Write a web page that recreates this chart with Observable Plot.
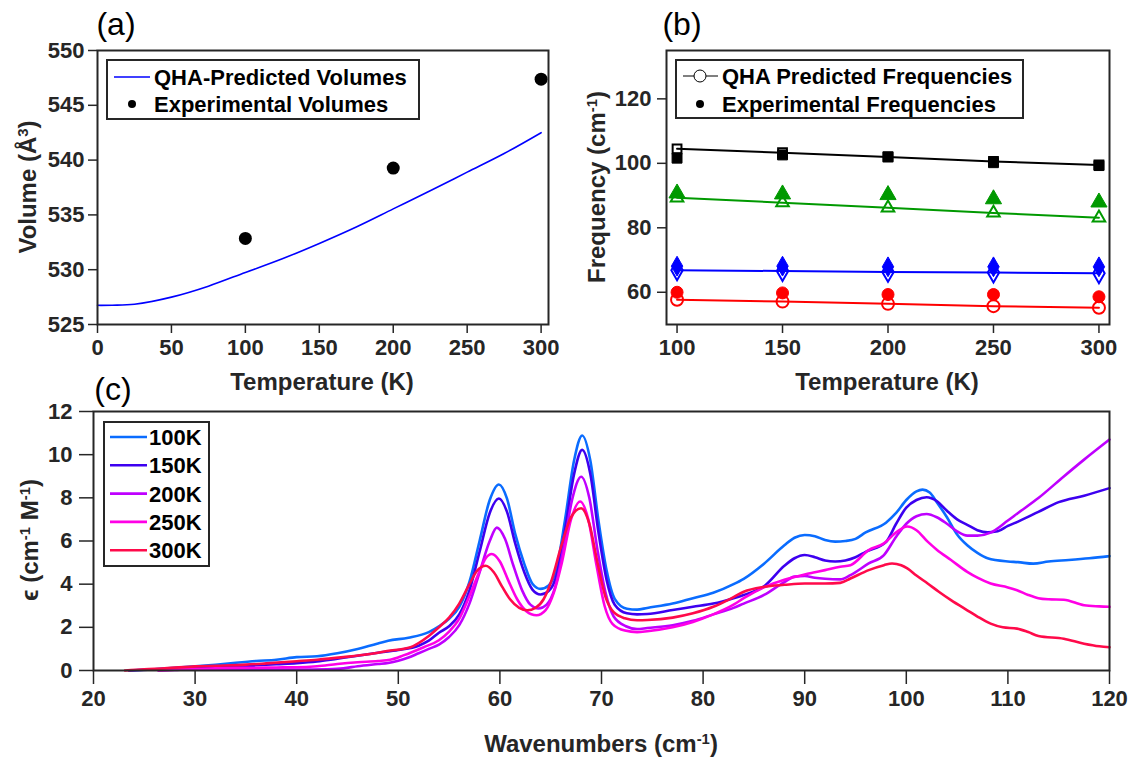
<!DOCTYPE html>
<html><head><meta charset="utf-8">
<script src="https://cdn.jsdelivr.net/npm/d3@7"></script>
<script src="https://cdn.jsdelivr.net/npm/@observablehq/plot@0.6"></script>
<style>
body{margin:0;background:#fff;}
#fig{position:relative;width:1133px;height:761px;overflow:hidden;background:#fff;font-family:"Liberation Sans",Arial,Helvetica,sans-serif;color:#262626;}
.t{position:absolute;font-weight:bold;white-space:nowrap;transform:translate(-50%,-50%);font-size:24px;line-height:1;}
.ty{position:absolute;font-weight:bold;white-space:nowrap;transform:translate(-50%,-50%) rotate(-90deg);font-size:24px;line-height:1;}
.pl{position:absolute;font-size:32px;transform:translate(-50%,-50%);line-height:1;color:#000;}
.leg{position:absolute;border:2px solid #262626;background:#fff;box-sizing:border-box;}
.leg .lt{position:absolute;font-weight:bold;font-size:22px;white-space:nowrap;transform:translateY(-50%);line-height:1;color:#000;}
.leg svg{position:absolute;left:0;top:0;overflow:visible;}
sup{font-size:0.62em;vertical-align:0.55em;line-height:0;}
</style></head><body><div id="fig"></div>
<script>
// ---------- Panel (a) ----------
const volT = [0, 10, 25, 50, 75, 100, 125, 150, 175, 200, 225, 250, 275, 300];
const volQHA = [526.75, 526.76, 526.85, 527.5, 528.5, 529.75, 531.0, 532.4, 533.9, 535.55, 537.2, 538.9, 540.6, 542.5];
const expT = [100, 200, 300];
const expV = [532.85, 539.27, 547.38];
const aXTicks = [0, 50, 100, 150, 200, 250, 300];
const aYTicks = [525, 530, 535, 540, 545, 550];

// ---------- Panel (b) ----------
const freqT = [100, 150, 200, 250, 300];
const qhaBlack = [104.5, 103.3, 102.0, 100.6, 99.5];
const expBlack = [101.6, 102.6, 102.0, 100.2, 99.3];
const qhaGreen = [89.3, 87.8, 86.2, 84.6, 83.1];
const expGreen = [90.7, 90.4, 90.2, 88.9, 87.9];
const qhaBlue = [66.8, 66.6, 66.3, 66.1, 65.9];
const expBlue = [68.1, 68.1, 67.9, 67.9, 67.9];
const qhaRed = [57.7, 57.1, 56.4, 55.7, 55.2];
const expRed = [60.0, 59.8, 59.3, 59.3, 58.6];
const bXTicks = [100, 150, 200, 250, 300];
const bYTicks = [60, 80, 100, 120];

// ---------- Panel (c) ----------
const w100 = [23.5,26,28,30,32,34,36,38,40,42,44,46,48,49,51,53,54,55,56,57,58,59,59.9,60.7,61.5,62.4,63.2,64,64.8,65.6,66.4,67.3,68.1,68.9,69.7,70.5,71.3,72.5,73.5,74.5,77,79,81,83,84,86,88,89,90,91,92,93,94,95,96,98,99,100,101,101.6,102.3,103,104,105,106,107,108,110,111,112.5,114,116,118,120];
const e100 = [0,0.06,0.12,0.19,0.27,0.36,0.44,0.5,0.62,0.66,0.8,1.0,1.25,1.38,1.52,1.78,2.05,2.4,2.95,4.1,6.0,7.9,8.62,7.96,6.34,4.94,4.02,3.78,3.94,4.79,6.95,9.73,10.89,9.73,6.95,4.64,3.32,2.86,2.82,2.9,3.1,3.35,3.6,4.0,4.25,4.95,5.8,6.15,6.28,6.22,6.05,5.97,6.0,6.1,6.4,6.85,7.3,7.9,8.3,8.38,8.25,7.8,7.1,6.3,5.8,5.45,5.2,5.05,5.02,4.95,5.05,5.12,5.2,5.3];

const w150 = [23.5,26,28,30,32,34,36,38,40,42,44,46,48,50,52,53,54,55,56,57,58,59,59.9,60.7,61.5,62.4,63.2,64,64.8,65.6,66.4,67.3,68.1,68.9,69.7,70.5,71.3,72.5,73.5,74.5,77,79,81,83,84,86,88,89,90,91,92,93,94,95,96,98,99,100,101,102,103,104,105,106,107,108,109,110,111,113,115,117.5,120];
const e150 = [0,0.05,0.09,0.13,0.16,0.19,0.24,0.29,0.34,0.42,0.55,0.68,0.82,0.95,1.15,1.38,1.75,2.05,2.6,3.7,5.5,7.3,7.97,7.35,5.9,4.55,3.75,3.52,3.68,4.45,6.5,9.1,10.22,9.1,6.4,4.2,3.05,2.65,2.6,2.62,2.8,2.95,3.1,3.35,3.5,3.9,4.85,5.2,5.35,5.25,5.1,5.05,5.1,5.25,5.5,5.95,6.8,7.55,7.9,8.03,7.85,7.4,7.0,6.75,6.5,6.4,6.45,6.7,6.9,7.35,7.8,8.1,8.45];

const w200 = [26.4,28,30,35,40,43,44.6,46,48,49,50,51,52,53,54,55,56,57,58,59,59.7,60.5,61.3,62.2,63,63.8,64.6,65.4,66.2,67.1,68,68.8,69.6,70.4,71.2,72.4,73.5,74.5,77,79,81,83,84,86,88,89,90,91,92,93.5,94.5,96.3,97.8,99,100,101,102,103,104,105,106,107,108.3,110,111,113,115.5,117.5,120];
const e200 = [0,0.03,0.06,0.05,0.04,0.06,0.1,0.2,0.3,0.35,0.45,0.6,0.8,1.0,1.2,1.55,2.1,3.1,4.55,6.0,6.62,6.1,4.9,3.7,3.05,2.87,3.05,3.8,5.5,7.9,8.98,8.0,5.6,3.6,2.5,2.05,1.92,1.97,2.1,2.3,2.6,2.9,3.1,3.5,4.1,4.35,4.38,4.3,4.25,4.22,4.42,4.96,5.35,6.2,6.8,7.15,7.25,7.1,6.8,6.45,6.25,6.25,6.39,6.95,7.3,7.99,8.99,9.77,10.7];

const w250 = [26.4,28,30,32,34,36,38,40,42,44,46,48,49.2,50.5,52.5,54,55,56,57,58,58.6,59.2,60,60.8,61.7,62.6,63.6,64.5,65.3,66.1,67,67.9,68.7,69.5,70.3,71.1,72.3,73.5,74.5,77,79,81,83,84,86,88,90,91,92,93.5,94.5,96.3,97.8,99,100.1,101,102.1,103,104.4,106,107,108.3,110,110.9,112,113,114,115.5,117.5,119,120];
const e250 = [0,0.04,0.08,0.1,0.12,0.13,0.14,0.15,0.2,0.3,0.38,0.44,0.5,0.7,1.08,1.4,1.8,2.4,3.45,4.6,5.2,5.4,5.05,4.2,3.3,2.75,2.56,2.8,3.6,5.0,7.0,7.83,7.0,4.9,3.0,2.15,1.85,1.78,1.82,2.0,2.25,2.6,3.05,3.35,3.85,4.2,4.45,4.55,4.65,4.81,4.88,5.58,5.89,6.4,6.67,6.5,5.97,5.6,5.12,4.57,4.3,4.03,3.85,3.72,3.5,3.35,3.3,3.28,3.02,2.97,2.95];

const w300 = [23.1,25,27,30,32,35,37,40,42,44.6,47,48.9,51.2,53,54,55,56,57,57.8,58.6,59.4,60.2,61,61.9,62.7,63.5,64.3,65.1,66,67,68,68.8,69.6,70.4,71.2,72.3,73.5,74.5,77,79,81,83,84,86,88,90,92,93.5,94.5,96.3,97.8,98.6,99.5,100.1,101,102.1,103.2,104.4,106,107,108.3,109.5,110.9,112,113,115.5,117.5,119,120];
const e300 = [0,0.06,0.1,0.19,0.22,0.27,0.33,0.43,0.5,0.62,0.75,0.9,1.08,1.6,2.0,2.45,3.1,4.0,4.65,4.85,4.55,3.9,3.3,2.9,2.79,2.9,3.3,4.2,5.7,7.1,7.52,6.8,5.0,3.4,2.7,2.42,2.33,2.34,2.45,2.65,2.95,3.4,3.65,3.88,3.97,4.03,4.03,4.06,4.26,4.65,4.88,4.96,4.88,4.73,4.4,4.03,3.65,3.26,2.79,2.5,2.17,2.0,1.94,1.78,1.6,1.47,1.24,1.12,1.08];

const cLabels = ["100K", "150K", "200K", "250K", "300K"];
const cColors = ["#0a6cff", "#3d00f0", "#bf00ff", "#ff00e6", "#ff0a4a"];
const cXTicks = [20, 30, 40, 50, 60, 70, 80, 90, 100, 110, 120];
const cYTicks = [0, 2, 4, 6, 8, 10, 12];

// ---------- build ----------
const fig = document.getElementById("fig");
const FONT = '"Liberation Sans", Arial, Helvetica, sans-serif';
const INK = "#262626";
function baseStyle() {
  return {fontFamily: FONT, fontSize: "22px", fontWeight: "bold", color: INK, background: "transparent", overflow: "visible"};
}
function place(svg, left, top) {
  svg.style.position = "absolute";
  svg.style.left = left + "px";
  svg.style.top = top + "px";
  fig.appendChild(svg);
}

// Panel (a)
const volRows = volT.map((t, i) => ({T: t, V: volQHA[i]}));
const expRows = expT.map((t, i) => ({T: t, V: expV[i]}));
const plotA = Plot.plot({
  width: 560, height: 380,
  marginLeft: 97, marginRight: 12, marginTop: 50, marginBottom: 56,
  x: {domain: [0, 305]},
  y: {domain: [525, 550]},
  style: baseStyle(),
  marks: [
    Plot.line(volRows, {x: "T", y: "V", stroke: "#0000ff", strokeWidth: 1.6, curve: "catmull-rom"}),
    Plot.dot(expRows, {x: "T", y: "V", r: 6.5, fill: "#000", stroke: "none"}),
    Plot.axisX({ticks: aXTicks, tickSize: 9, tickPadding: 6, label: null, stroke: INK, strokeWidth: 1.5}),
    Plot.axisY({ticks: aYTicks, tickSize: 9, tickPadding: 4, label: null, stroke: INK, strokeWidth: 1.5}),
    Plot.frame({stroke: INK, strokeWidth: 2})
  ]
});
place(plotA, 0, 0);

// Panel (b)
const series = [
  {q: qhaBlack, e: expBlack, color: "#000000", sq: "square2", se: "square", r: 5.6},
  {q: qhaGreen, e: expGreen, color: "#009900", sq: "triangle2", se: "triangle", r: 6},
  {q: qhaBlue, e: expBlue, color: "#0000ff", sq: "diamond", se: "diamond", r: 6},
  {q: qhaRed, e: expRed, color: "#ff0000", sq: "circle", se: "circle", r: 6}
];
const bMarks = [];
series.forEach(s => {
  const qRows = freqT.map((t, i) => ({T: t, F: s.q[i]}));
  const eRows = freqT.map((t, i) => ({T: t, F: s.e[i]}));
  bMarks.push(Plot.line(qRows, {x: "T", y: "F", stroke: s.color, strokeWidth: 2}));
  bMarks.push(Plot.dot(eRows, {x: "T", y: "F", symbol: s.se, r: s.r, fill: s.color, stroke: s.color, strokeWidth: 1}));
  bMarks.push(Plot.dot(qRows, {x: "T", y: "F", symbol: s.sq, r: s.r, fill: "none", stroke: s.color, strokeWidth: 2}));
});
const plotB = Plot.plot({
  width: 573, height: 380,
  marginLeft: 106, marginRight: 24, marginTop: 50, marginBottom: 56,
  x: {domain: [95, 305]},
  y: {domain: [50, 135]},
  style: baseStyle(),
  marks: [
    ...bMarks,
    Plot.axisX({ticks: bXTicks, tickSize: 9, tickPadding: 6, label: null, stroke: INK, strokeWidth: 1.5}),
    Plot.axisY({ticks: bYTicks, tickSize: 9, tickPadding: 6, label: null, stroke: INK, strokeWidth: 1.5}),
    Plot.frame({stroke: INK, strokeWidth: 2})
  ]
});
place(plotB, 560, 0);

// Panel (c)
const wl = [w100, w150, w200, w250, w300];
const el = [e100, e150, e200, e250, e300];
const cRows = [];
cLabels.forEach((lab, k) => wl[k].forEach((w, i) => cRows.push({s: lab, w: w, e: el[k][i]})));
const plotC = Plot.plot({
  width: 1133, height: 381,
  marginLeft: 93, marginRight: 24, marginTop: 31, marginBottom: 91,
  x: {domain: [20, 120]},
  y: {domain: [0, 12]},
  color: {domain: cLabels, range: cColors},
  style: baseStyle(),
  marks: [
    Plot.line(cRows, {x: "w", y: "e", z: "s", stroke: "s", strokeWidth: 2.6, curve: "monotone-x"}),
    Plot.axisX({ticks: cXTicks, tickSize: 14, tickPadding: 6, label: null, stroke: INK, strokeWidth: 1.5}),
    Plot.axisY({ticks: cYTicks, tickSize: 14, tickPadding: 7, label: null, stroke: INK, strokeWidth: 1.5}),
    Plot.frame({stroke: INK, strokeWidth: 2})
  ]
});
place(plotC, 0, 380);

// ---------- titles and labels ----------
function addDiv(cls, html, x, y) {
  const d = document.createElement("div");
  d.className = cls; d.innerHTML = html;
  d.style.left = x + "px"; d.style.top = y + "px";
  fig.appendChild(d);
  return d;
}
addDiv("pl", "(a)", 116, 24);
addDiv("pl", "(b)", 682, 24);
addDiv("pl", "(c)", 113, 389);
addDiv("t", "Temperature (K)", 322, 382);
addDiv("t", "Temperature (K)", 887, 382);
addDiv("t", "Wavenumbers (cm<sup>-1</sup>)", 601, 744);
addDiv("ty", "Volume (Å<sup>3</sup>)", 28, 187);
addDiv("ty", "Frequency (cm<sup>-1</sup>)", 597, 187);
addDiv("ty", "&#x03F5; (cm<sup>-1</sup> M<sup>-1</sup>)", 30, 540);

// ---------- legends ----------
const NS = "http://www.w3.org/2000/svg";
function legend(left, top, w, h, rows) {
  const box = document.createElement("div");
  box.className = "leg";
  Object.assign(box.style, {left: left + "px", top: top + "px", width: w + "px", height: h + "px"});
  const svg = document.createElementNS(NS, "svg");
  svg.setAttribute("width", w); svg.setAttribute("height", h);
  box.appendChild(svg);
  rows.forEach(r => {
    r.draw(svg, r.y);
    const t = document.createElement("div");
    t.className = "lt"; t.innerHTML = r.label;
    t.style.left = r.tx + "px"; t.style.top = (r.y - 1) + "px";
    box.appendChild(t);
  });
  fig.appendChild(box);
}
function el2(svg, tag, attrs) {
  const e = document.createElementNS(NS, tag);
  for (const k in attrs) e.setAttribute(k, attrs[k]);
  svg.appendChild(e);
}
const lineSw = (x1, x2, color, sw) => (svg, y) => el2(svg, "line", {x1: x1 - 2, x2: x2 - 2, y1: y - 2, y2: y - 2, stroke: color, "stroke-width": sw});
const dotSw = (cx, r) => (svg, y) => el2(svg, "circle", {cx: cx - 2, cy: y - 2, r: r, fill: "#000"});
const lineCircleSw = (x1, x2, cx) => (svg, y) => {
  el2(svg, "line", {x1: x1 - 2, x2: x2 - 2, y1: y - 2, y2: y - 2, stroke: "#000", "stroke-width": 1});
  el2(svg, "circle", {cx: cx - 2, cy: y - 2, r: 6, fill: "#fff", stroke: "#000", "stroke-width": 1});
};
legend(106, 59, 314, 61, [
  {y: 18, tx: 46, label: "QHA-Predicted Volumes", draw: lineSw(8, 44, "#0000ff", 1.6)},
  {y: 45, tx: 46, label: "Experimental Volumes", draw: dotSw(26, 4)}
]);
legend(675, 59, 349, 60, [
  {y: 17, tx: 45, label: "QHA Predicted Frequencies", draw: lineCircleSw(8, 43, 25)},
  {y: 45, tx: 45, label: "Experimental Frequencies", draw: dotSw(25, 4)}
]);
legend(103, 421, 107, 146, cLabels.map((lab, k) => ({
  y: 16 + k * 28.3, tx: 44, label: lab, draw: lineSw(7, 44, cColors[k], 2.6)
})));
</script></body></html>
